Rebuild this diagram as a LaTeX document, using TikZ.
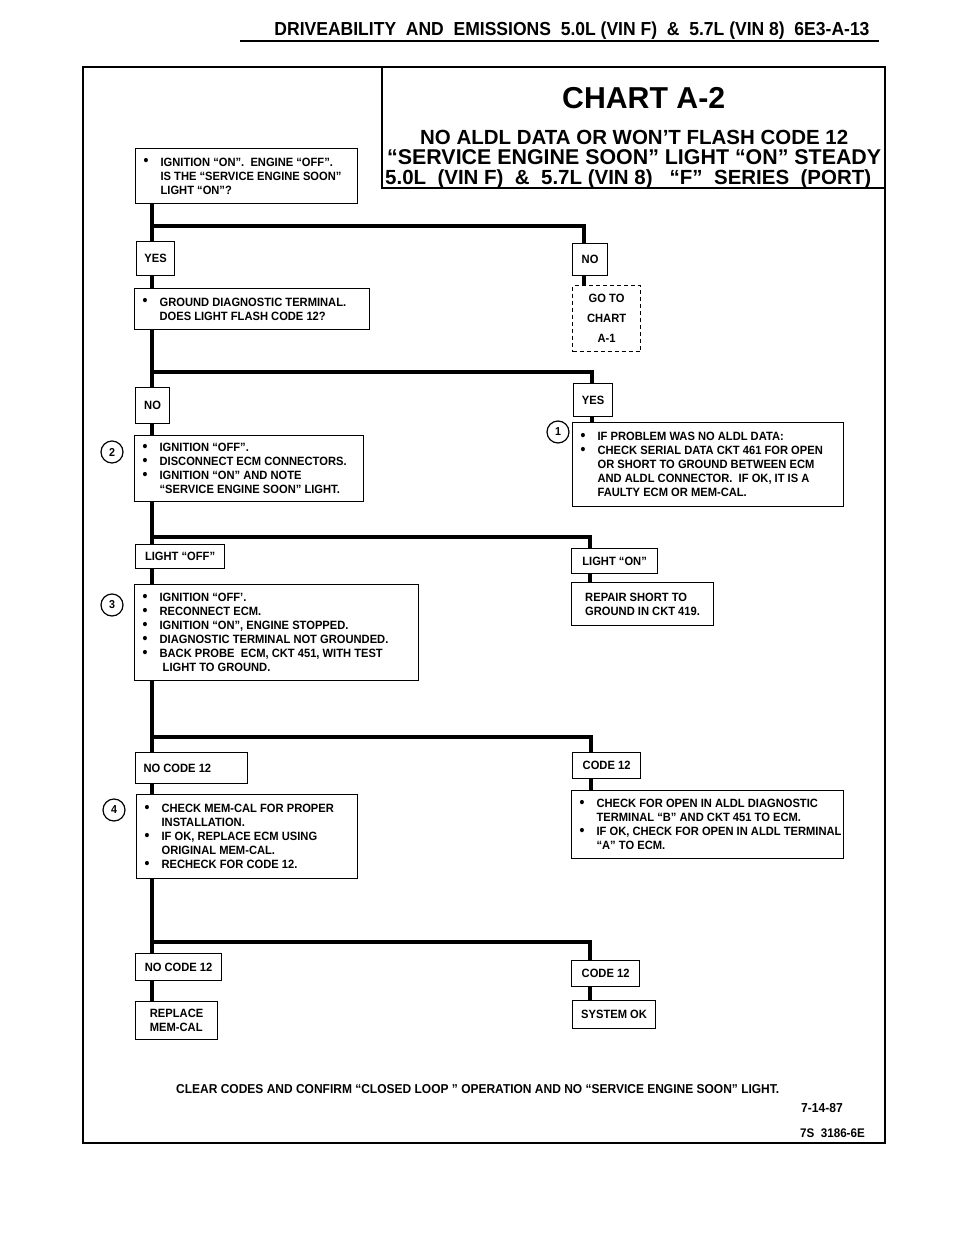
\documentclass[tikz,border=0pt]{standalone}
\usepackage{fontspec}
\setmainfont{Liberation Sans}[FakeStretch=0.93]
\newfontfamily\widef{Liberation Sans}
\usepackage{graphicx}
\newcommand\bl{\makebox[17pt][l]{\raisebox{0.6pt}{\scalebox{1.25}{\textbullet}}}}
\newcommand\ii{\hspace*{17pt}}
\newcommand\mybox[7][]{\pgfmathsetmacro\bw{#5-#3-16}\pgfmathsetmacro\bh{#6-#4}\node[bx,text width=\bw pt,minimum height=\bh pt,#1] (#2) at (#3,#4) {#7};}
\newcommand\mylb[7][]{\pgfmathsetmacro\bw{#5-#3}\pgfmathsetmacro\bh{#6-#4}\node[lb,minimum width=\bw pt,minimum height=\bh pt,#1] (#2) at (#3,#4) {#7};}
\begin{document}
\begin{tikzpicture}[x=1pt,y=-1pt,
  bx/.style={draw,line width=1.2pt,anchor=north west,inner xsep=8pt,inner ysep=0pt,align=flush left,font=\bfseries\fontsize{12}{14}\selectfont},
  lb/.style={draw,line width=1.2pt,anchor=north west,inner sep=0pt,align=center,font=\bfseries\fontsize{12}{14}\selectfont},
  trunk/.style={line width=3.6pt},
  circ/.style={circle,draw,line width=1.2pt,minimum size=22pt,inner sep=0pt,font=\bfseries\fontsize{11.5}{11.5}\selectfont},
  ttl/.style={anchor=base west,inner sep=0pt,font=\widef\bfseries\fontsize{22.3}{22.3}\selectfont},
  dashbox/.style={dash pattern=on 4pt off 3pt}]
\useasboundingbox (0,0) rectangle (960,1242);
% header
\node[anchor=base,inner sep=0pt,font=\bfseries\fontsize{20}{20}\selectfont] (hdr) at (572,35)
  {\resizebox{595pt}{!}{DRIVEABILITY\ \ AND\ \ EMISSIONS\ \ 5.0L (VIN F)\ \ \&\ \ 5.7L (VIN 8)\ \ 6E3-A-13}};
\draw[line width=2pt] (240,41) -- (879,41);
% frame and title box
\draw[line width=1.8pt] (83,67) rectangle (885,1143);
\draw[line width=1.5pt] (382,67) |- (885,188);
\node[anchor=base west,inner sep=0pt,font=\widef\bfseries\fontsize{28}{28}\selectfont] (t0) at (562,108) {\resizebox{163pt}{!}{CHART A-2}};
\node[ttl] (t1) at (420,144) {\resizebox{428pt}{!}{NO ALDL DATA OR WON’T FLASH CODE 12}};
\node[ttl] (t2) at (387,164) {\resizebox{494pt}{!}{“SERVICE ENGINE SOON” LIGHT “ON” STEADY}};
\node[ttl] (t3) at (385,184) {\resizebox{486pt}{!}{5.0L\ \ (VIN F)\ \ \&\ \ 5.7L (VIN 8)\ \ \ “F”\ \ SERIES\ \ (PORT)}};
% boxes
\mybox{b1}{135}{148}{357}{203}{\bl IGNITION “ON”.\ \ ENGINE “OFF”.\\\ii IS THE “SERVICE ENGINE SOON”\\\ii LIGHT “ON”?}
\mylb{yes1}{136}{241}{174}{275}{YES}
\mylb{no1}{572}{243}{607}{275}{NO}
\mybox{b2}{134}{288}{369}{329}{\bl GROUND DIAGNOSTIC TERMINAL.\\\ii DOES LIGHT FLASH CODE 12?}
\mylb[dashbox]{goto}{572}{285}{640}{351}{GO TO\\[6pt]CHART\\[6pt]A-1}
\mylb{no2}{135}{387}{169}{423}{NO}
\mylb{yes2}{573}{383}{612}{416}{YES}
\mybox{b3}{134}{435}{363}{501}{\bl IGNITION “OFF”.\\\bl DISCONNECT ECM CONNECTORS.\\\bl IGNITION “ON” AND NOTE\\\ii “SERVICE ENGINE SOON” LIGHT.}
\mybox{r1}{572}{422}{843}{506}{\bl IF PROBLEM WAS NO ALDL DATA:\\\bl CHECK SERIAL DATA CKT 461 FOR OPEN\\\ii OR SHORT TO GROUND BETWEEN ECM\\\ii AND ALDL CONNECTOR.\ \ IF OK, IT IS A\\\ii FAULTY ECM OR MEM-CAL.}
\mylb{off}{135}{544}{224}{568}{LIGHT “OFF”}
\mylb{on}{571}{548}{657}{573}{LIGHT “ON”}
\mybox{b4}{134}{584}{418}{680}{\bl IGNITION “OFF’.\\\bl RECONNECT ECM.\\\bl IGNITION “ON”, ENGINE STOPPED.\\\bl DIAGNOSTIC TERMINAL NOT GROUNDED.\\\bl BACK PROBE\ \ ECM, CKT 451, WITH TEST\\\ii\ LIGHT TO GROUND.}
\mylb[align=left]{repair}{571}{582}{713}{625}{REPAIR SHORT TO\\GROUND IN CKT 419.}
\mybox{nc1}{135}{752}{247}{783}{NO CODE 12}
\mylb{c12a}{572}{752}{640}{778}{CODE 12}
\mybox{b5}{136}{794}{357}{878}{\bl CHECK MEM-CAL FOR PROPER\\\ii INSTALLATION.\\\bl IF OK, REPLACE ECM USING\\\ii ORIGINAL MEM-CAL.\\\bl RECHECK FOR CODE 12.}
\mybox{r2}{571}{790}{843}{858}{\bl CHECK FOR OPEN IN ALDL DIAGNOSTIC\\\ii TERMINAL “B” AND CKT 451 TO ECM.\\\mbox{\bl IF OK, CHECK FOR OPEN IN ALDL TERMINAL}\\\ii “A” TO ECM.}
\mylb{nc2}{135}{953}{221}{980}{NO CODE 12}
\mylb{c12b}{571}{960}{639}{986}{CODE 12}
\mylb[align=left]{repl}{135}{1001}{217}{1039}{REPLACE\\MEM-CAL}
\mylb{sysok}{572}{1000}{655}{1028}{SYSTEM OK}
% circles
\node[circ] (n2) at (112,452) {2};
\node[circ] (n1) at (558,432) {1};
\node[circ] (n3) at (112,605) {3};
\node[circ] (n4) at (114,810) {4};
% connectors
\coordinate (T) at (152,0);
\coordinate (H1) at (584,226);
\coordinate (H2) at (592,372);
\coordinate (H3) at (590,537);
\coordinate (H4) at (591,737);
\coordinate (H5) at (590,942);
\draw[trunk] (b1.south -| T) -- (yes1.north -| T);
\draw[trunk] (T |- H1) -- (H1) -- (no1.north -| H1);
\draw[trunk] (yes1.south -| T) -- (b2.north -| T);
\draw[trunk] (no1.south -| H1) -- (goto.north -| H1);
\draw[trunk] (b2.south -| T) -- (no2.north -| T);
\draw[trunk] (T |- H2) -- (H2) -- (yes2.north -| H2);
\draw[trunk] (no2.south -| T) -- (b3.north -| T);
\draw[trunk] (yes2.south -| H2) -- (r1.north -| H2);
\draw[trunk] (b3.south -| T) -- (off.north -| T);
\draw[trunk] (T |- H3) -- (H3) -- (on.north -| H3);
\draw[trunk] (off.south -| T) -- (b4.north -| T);
\draw[trunk] (on.south -| H3) -- (repair.north -| H3);
\draw[trunk] (b4.south -| T) -- (nc1.north -| T);
\draw[trunk] (T |- H4) -- (H4) -- (c12a.north -| H4);
\draw[trunk] (nc1.south -| T) -- (b5.north -| T);
\draw[trunk] (c12a.south -| H4) -- (r2.north -| H4);
\draw[trunk] (b5.south -| T) -- (nc2.north -| T);
\draw[trunk] (T |- H5) -- (H5) -- (c12b.north -| H5);
\draw[trunk] (nc2.south -| T) -- (repl.north -| T);
\draw[trunk] (c12b.south -| H5) -- (sysok.north -| H5);
% footer
\node[anchor=base west,inner sep=0pt,font=\bfseries\fontsize{12}{12}\selectfont] (foot) at (176,1093)
  {\resizebox{603pt}{!}{CLEAR CODES AND CONFIRM “CLOSED LOOP ” OPERATION AND NO “SERVICE ENGINE SOON” LIGHT.}};
\node[anchor=base west,inner sep=0pt,font=\bfseries\fontsize{13}{13}\selectfont] (date) at (801,1112) {7-14-87};
\node[anchor=base west,inner sep=0pt,font=\bfseries\fontsize{12.5}{12.5}\selectfont] (ref) at (800,1137) {7S\ \ 3186-6E};
\end{tikzpicture}
\end{document}
